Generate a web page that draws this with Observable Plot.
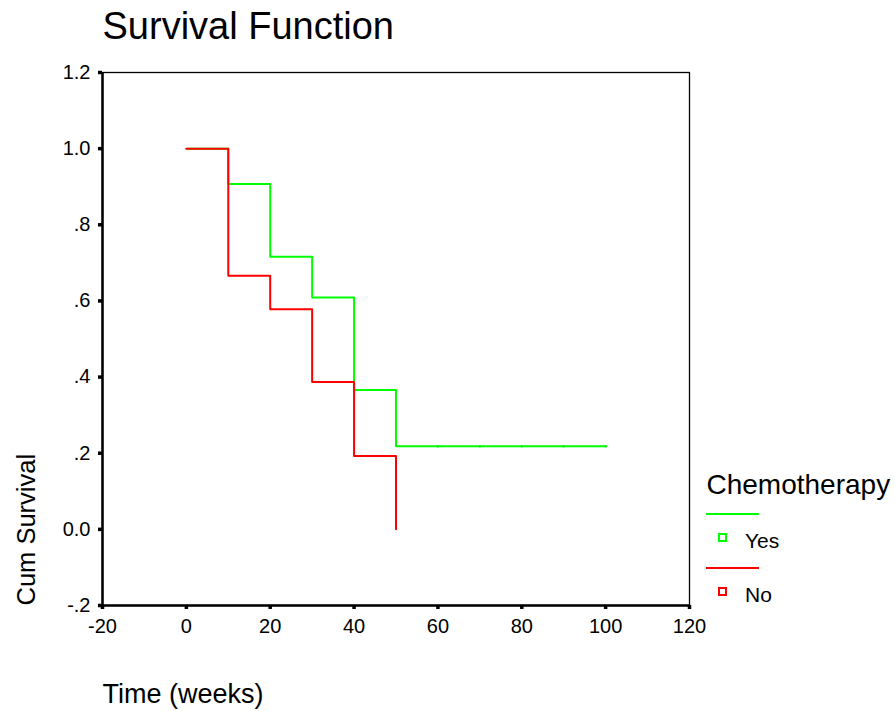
<!DOCTYPE html>
<html>
<head>
<meta charset="utf-8">
<script src="https://cdn.jsdelivr.net/npm/d3@7"></script>
<script src="https://cdn.jsdelivr.net/npm/@observablehq/plot@0.6"></script>
<style>
  html, body { margin: 0; padding: 0; background: #fff; }
  svg text { font-family: "Liberation Sans", Arial, sans-serif; }
</style>
</head>
<body>
<div id="chart"></div>
<script>
// ---- data ----
const yesTimes = [0, 10, 20, 30, 40, 50, 100];
const yesSurv  = [1.0, 0.907, 0.716, 0.609, 0.366, 0.218, 0.218];
const yesCensorTimes = [60, 70, 80, 90, 100];
const noTimes  = [0, 10, 20, 30, 40, 50];
const noSurv   = [1.0, 0.666, 0.578, 0.387, 0.193, 0.0];
const groups = ["Yes", "No"];
const colors = ["#00ff00", "#ff0000"];
const xTicks = [-20, 0, 20, 40, 60, 80, 100, 120];
const yTicks = [-0.2, 0, 0.2, 0.4, 0.6, 0.8, 1.0, 1.2];
const yTickLabels = ["-.2", "0.0", ".2", ".4", ".6", ".8", "1.0", "1.2"];
const titleText = "Survival Function";
const xLabel = "Time (weeks)";
const yLabel = "Cum Survival";
const legendTitle = "Chemotherapy";

const yesData = yesTimes.map((t, i) => ({t, s: yesSurv[i], g: "Yes"}));
const noData = noTimes.map((t, i) => ({t, s: noSurv[i], g: "No"}));
const yesCensor = yesCensorTimes.map(t => ({t, s: yesSurv[yesSurv.length - 1]}));
const colorOf = Object.fromEntries(groups.map((g, i) => [g, colors[i]]));

const W = 895, H = 711;
const chart = Plot.plot({
  width: W,
  height: H,
  marginLeft: 102,
  marginRight: 206,
  marginTop: 72,
  marginBottom: 106,
  style: {fontFamily: "Liberation Sans, Arial, sans-serif", background: "#fff", color: "#000"},
  x: {domain: [-20, 120]},
  y: {domain: [-0.2, 1.2]},
  marks: [
    Plot.frame({stroke: "#000", strokeWidth: 1.3}),
    Plot.axisX({ticks: xTicks, tickSize: 4, strokeWidth: 3.5, tickPadding: 9, fontSize: 20, label: null, tickFormat: d => String(d)}),
    Plot.axisY({ticks: yTicks, tickSize: 4, strokeWidth: 3.5, tickPadding: 8, fontSize: 20, label: null,
      tickFormat: d => yTickLabels[yTicks.findIndex(v => Math.abs(v - d) < 1e-9)]}),
    Plot.ruleX([-20], {stroke: "#000", strokeWidth: 2.5}),
    Plot.ruleY([-0.2], {stroke: "#000", strokeWidth: 2.5}),
    Plot.line(yesData, {x: "t", y: "s", curve: "step-after", stroke: colorOf["Yes"], strokeWidth: 2}),
    Plot.dot(yesCensor, {x: "t", y: "s", r: 1.3, fill: colorOf["Yes"], stroke: "none"}),
    Plot.line(noData, {x: "t", y: "s", curve: "step-after", stroke: colorOf["No"], strokeWidth: 2}),
    Plot.text([titleText], {frameAnchor: "top-left", textAnchor: "start", lineAnchor: "bottom", dy: -34, fontSize: 38, fill: "#000"}),
    Plot.text([xLabel], {frameAnchor: "bottom-left", textAnchor: "start", lineAnchor: "bottom", dy: 97, fontSize: 27, fill: "#000"}),
    Plot.text([yLabel], {frameAnchor: "bottom-left", textAnchor: "start", lineAnchor: "bottom", rotate: -90, dx: -68, dy: 0, fontSize: 25.5, fill: "#000"}),
    Plot.text([legendTitle], {frameAnchor: "top-right", textAnchor: "start", lineAnchor: "bottom", dx: 17, dy: 421, fontSize: 28, fill: "#000"})
  ]
});
document.getElementById("chart").appendChild(chart);

const svg = d3.select(chart);
// make sure tick labels use the intended size
svg.selectAll('g[aria-label="x-axis tick label"], g[aria-label="y-axis tick label"]')
  .style("font-size", "20px");
svg.selectAll('g[aria-label="x-axis tick label"] text, g[aria-label="y-axis tick label"] text')
  .style("font-size", "20px");

// legend entries (line sample, square, label) below the legend title
const lg = svg.append("g").attr("transform", "translate(706,514)").attr("text-anchor", "start");
groups.forEach((g, i) => {
  const row = lg.append("g").attr("transform", `translate(0,${i * 54})`);
  row.append("line").attr("x1", 0).attr("x2", 53).attr("y1", 0).attr("y2", 0)
    .attr("stroke", colors[i]).attr("stroke-width", 2);
  row.append("rect").attr("x", 13).attr("y", 20).attr("width", 7).attr("height", 7)
    .attr("fill", "none").attr("stroke", colors[i]).attr("stroke-width", 2);
  row.append("text").attr("x", 39).attr("y", 34).attr("font-size", 21).attr("fill", "#000")
    .attr("text-anchor", "start").text(g);
});
</script>
</body>
</html>
